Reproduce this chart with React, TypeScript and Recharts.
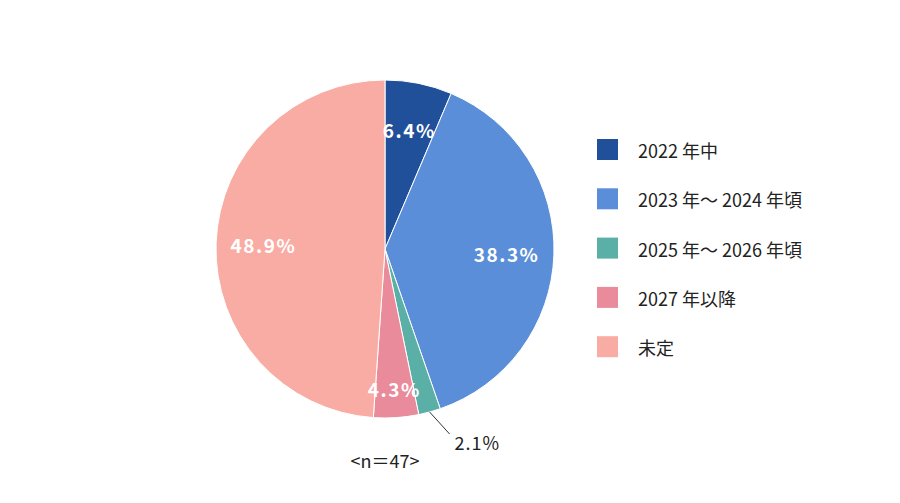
import React from 'react';
import { PieChart, Pie, Cell } from 'recharts';

const categories = ['2022 年中', '2023 年～ 2024 年頃', '2025 年～ 2026 年頃', '2027 年以降', '未定'];
const values = [6.4, 38.3, 2.1, 4.3, 48.9];
const colors = ['#1f5099', '#5b8ed8', '#5aafa6', '#e98b9b', '#f9aca3'];
const sampleNote = '<n＝47>';

const data = categories.map((name, i) => ({ name, value: values[i] }));
const FONT = '"Noto Sans CJK JP", "Noto Sans", sans-serif';
const RAD = Math.PI / 180;

const renderLabel = (props: any) => {
    const { cx, cy, midAngle, outerRadius, index, value } = props;
    const text = `${value.toFixed(1)}%`;
    if (index === 2) {
        const x0 = cx + outerRadius * Math.cos(-midAngle * RAD);
        const y0 = cy + outerRadius * Math.sin(-midAngle * RAD);
        return (
            <g>
                <polyline points={`${x0},${y0} ${x0 + 20},${y0 + 22}`} stroke="#333" fill="none" />
                <text x={x0 + 25} y={y0 + 38} fill="#222" fontSize={18} fontFamily={FONT} letterSpacing={1}>
                    {text}
                </text>
            </g>
        );
    }
    const r = index === 3 ? outerRadius * 0.83 : outerRadius * 0.72;
    const x = cx + r * Math.cos(-midAngle * RAD);
    const y = cy + r * Math.sin(-midAngle * RAD);
    return (
        <text x={x} y={y} fill="#fff" fontSize={19} fontWeight="bold" fontFamily={FONT}
            textAnchor="middle" dominantBaseline="central" letterSpacing={1.5}>
            {text}
        </text>
    );
};

export default function App() {
    return (
        <div style={{ position: 'absolute', left: 0, top: 0, width: 900, height: 503, background: '#fff' }}>
            <PieChart width={900} height={503}>
                <Pie data={data} dataKey="value" cx={380} cy={244} outerRadius={169} startAngle={90} endAngle={-270}
                    stroke="#fff" strokeWidth={1} label={renderLabel} labelLine={false} isAnimationActive={false}>
                    {data.map((d, i) => <Cell key={d.name} fill={colors[i]} />)}
                </Pie>
                <text x={385} y={460} textAnchor="middle" dominantBaseline="central" fontSize={18} fontFamily={FONT} fill="#222">
                    {sampleNote}
                </text>
                {categories.map((c, i) => (
                    <g key={c}>
                        <rect x={597} y={139 + i * 49.3} width={21} height={21} fill={colors[i]} />
                        <text x={638} y={150 + i * 49.3} dominantBaseline="central" fontSize={18} fontFamily={FONT} fill="#222">
                            {c}
                        </text>
                    </g>
                ))}
            </PieChart>
        </div>
    );
}
